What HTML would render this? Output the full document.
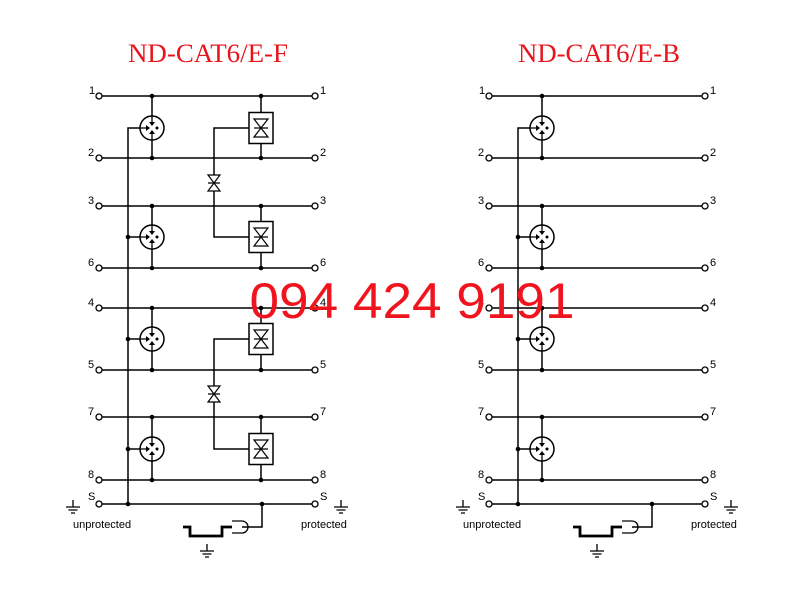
<!DOCTYPE html>
<html><head><meta charset="utf-8"><style>
html,body{margin:0;padding:0;background:#fff;width:800px;height:600px;overflow:hidden}
svg{display:block}
.t{font-family:"Liberation Serif",serif;font-size:26px;fill:#e8141c}
.n{font-family:"Liberation Sans",sans-serif;font-size:11px;fill:#000}
.w{font-family:"Liberation Sans",sans-serif;font-size:50px;fill:#f0141e}
</style></head><body>
<svg width="800" height="600" viewBox="0 0 800 600" xmlns="http://www.w3.org/2000/svg">
<defs>
<g id="tube">
<circle r="12" fill="#fff" stroke="#000" stroke-width="1.5"/>
<path d="M0,-12V-5M0,12V5M-12,0H-5" stroke="#000" stroke-width="1.3"/>
<polygon points="-3,-6 3,-6 0,-2"/><polygon points="-3,6 3,6 0,2"/><polygon points="-6,-3 -6,3 -2,0"/>
<circle cx="5" cy="0" r="1.5"/>
</g>
<g id="box">
<rect x="-12" y="-15.5" width="24" height="31" fill="#fff" stroke="#000" stroke-width="1.5"/>
<path d="M-7,-9H7L-7,9H7Z M-7,0H7" fill="none" stroke="#000" stroke-width="1.2"/>
</g>
<g id="dio">
<path d="M-6,-8H6L-6,8H6Z M-6,0H6" fill="#fff" stroke="#000" stroke-width="1.2"/>
</g>
<g id="gnd"><path d="M0,-7V0M-7,0H7M-4.5,3H4.5M-2,6H2" stroke="#000" stroke-width="1.3"/></g>
<g id="frame" stroke="#000" stroke-width="1.5" fill="none">
<path d="M99,96H315M99,158H315M99,206H315M99,268H315M99,308H315M99,370H315M99,417H315M99,480H315M99,504H315"/>
<path d="M128,504V128H140"/>
<path d="M152,96V116M152,140V158M152,206V225M152,249V268M152,308V327M152,351V370M152,417V437M152,461V480"/>
<path d="M128,237H140M128,339H140M128,449H140"/>
<path d="M262,504V527H242"/>
<path d="M232,527H222V536H190V527H183" stroke-width="2.8"/>
<path d="M242,521A6,6 0 0 1 242,533M232,521H242M232,533H242" stroke-width="1.3"/>
<g fill="#fff" stroke-width="1.3">
<circle cx="99" cy="96" r="3"/><circle cx="315" cy="96" r="3"/>
<circle cx="99" cy="158" r="3"/><circle cx="315" cy="158" r="3"/>
<circle cx="99" cy="206" r="3"/><circle cx="315" cy="206" r="3"/>
<circle cx="99" cy="268" r="3"/><circle cx="315" cy="268" r="3"/>
<circle cx="99" cy="308" r="3"/><circle cx="315" cy="308" r="3"/>
<circle cx="99" cy="370" r="3"/><circle cx="315" cy="370" r="3"/>
<circle cx="99" cy="417" r="3"/><circle cx="315" cy="417" r="3"/>
<circle cx="99" cy="480" r="3"/><circle cx="315" cy="480" r="3"/>
<circle cx="99" cy="504" r="3"/><circle cx="315" cy="504" r="3"/>
</g>
</g>
<g id="frameDots">
<circle cx="152" cy="96" r="2.3"/><circle cx="152" cy="158" r="2.3"/>
<circle cx="152" cy="206" r="2.3"/><circle cx="152" cy="268" r="2.3"/>
<circle cx="152" cy="308" r="2.3"/><circle cx="152" cy="370" r="2.3"/>
<circle cx="152" cy="417" r="2.3"/><circle cx="152" cy="480" r="2.3"/>
<circle cx="128" cy="237" r="2.3"/><circle cx="128" cy="339" r="2.3"/><circle cx="128" cy="449" r="2.3"/>
<circle cx="128" cy="504" r="2.3"/><circle cx="262" cy="504" r="2.3"/>
<use href="#tube" x="152" y="128"/><use href="#tube" x="152" y="237"/>
<use href="#tube" x="152" y="339"/><use href="#tube" x="152" y="449"/>
<use href="#gnd" x="73" y="507"/><use href="#gnd" x="341" y="507"/><use href="#gnd" x="207" y="551"/>
</g>
</defs>

<text class="t" x="128" y="62" textLength="160" lengthAdjust="spacingAndGlyphs">ND-CAT6/E-F</text>
<text class="t" x="518" y="62" textLength="162" lengthAdjust="spacingAndGlyphs">ND-CAT6/E-B</text>

<use href="#frame"/>
<use href="#frameDots"/>
<g stroke="#000" stroke-width="1.5" fill="none">
<path d="M261,96V112M261,143V158M261,206V222M261,253V268M261,308V323M261,354V370M261,417V433M261,464V480"/>
<path d="M249,128H214V237H249M249,339H214V449H249"/>
</g>
<g>
<circle cx="261" cy="96" r="2.3"/><circle cx="261" cy="158" r="2.3"/>
<circle cx="261" cy="206" r="2.3"/><circle cx="261" cy="268" r="2.3"/>
<circle cx="261" cy="308" r="2.3"/><circle cx="261" cy="370" r="2.3"/>
<circle cx="261" cy="417" r="2.3"/><circle cx="261" cy="480" r="2.3"/>
<use href="#box" x="261" y="128"/><use href="#box" x="261" y="237"/>
<use href="#box" x="261" y="339"/><use href="#box" x="261" y="449"/>
<use href="#dio" x="214" y="183"/><use href="#dio" x="214" y="394"/>
</g>

<g transform="translate(390,0)">
<use href="#frame"/>
<use href="#frameDots"/>
</g>

<g class="n">
<text x="89" y="94">1</text><text x="88" y="156">2</text><text x="88" y="204">3</text><text x="88" y="266">6</text>
<text x="88" y="306">4</text><text x="88" y="368">5</text><text x="88" y="415">7</text><text x="88" y="478">8</text><text x="88" y="500">S</text>
<text x="320" y="94">1</text><text x="320" y="156">2</text><text x="320" y="204">3</text><text x="320" y="266">6</text>
<text x="320" y="306">4</text><text x="320" y="368">5</text><text x="320" y="415">7</text><text x="320" y="478">8</text><text x="320" y="500">S</text>
<text x="73" y="528">unprotected</text><text x="301" y="528">protected</text>
<text x="479" y="94">1</text><text x="478" y="156">2</text><text x="478" y="204">3</text><text x="478" y="266">6</text>
<text x="478" y="306">4</text><text x="478" y="368">5</text><text x="478" y="415">7</text><text x="478" y="478">8</text><text x="478" y="500">S</text>
<text x="710" y="94">1</text><text x="710" y="156">2</text><text x="710" y="204">3</text><text x="710" y="266">6</text>
<text x="710" y="306">4</text><text x="710" y="368">5</text><text x="710" y="415">7</text><text x="710" y="478">8</text><text x="710" y="500">S</text>
<text x="463" y="528">unprotected</text><text x="691" y="528">protected</text>
</g>

<text class="w" x="412" y="318" text-anchor="middle" textLength="325" lengthAdjust="spacingAndGlyphs">094 424 9191</text>
</svg>
</body></html>
